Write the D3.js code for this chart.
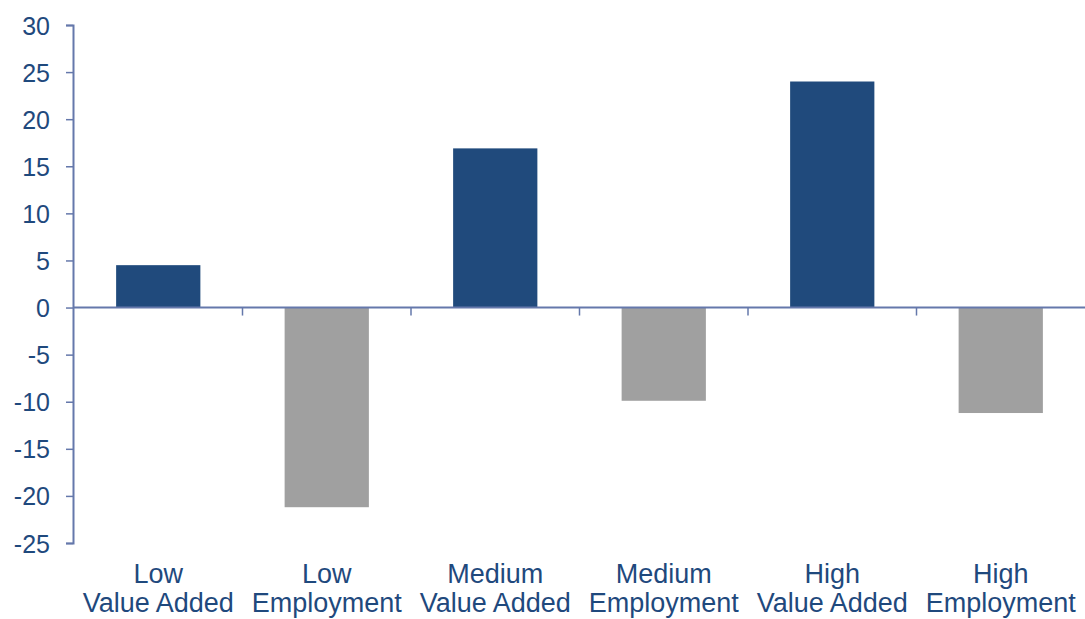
<!DOCTYPE html>
<html>
<head>
<meta charset="utf-8">
<title>Value added vs employment</title>
<script src="https://cdn.jsdelivr.net/npm/d3@7"></script>
<style>
  body { margin: 0; background: #fff; }
  text { font-family: "Liberation Sans", Arial, sans-serif; fill: #1f497d; }
</style>
</head>
<body>
<svg id="chart" width="1085" height="619"></svg>
<script>
// data
var categories = ["Low|Value Added", "Low|Employment", "Medium|Value Added",
                  "Medium|Employment", "High|Value Added", "High|Employment"]
var values = [4.5, -21.2, 16.9, -9.9, 24.0, -11.2]
var yTicks = [30, 25, 20, 15, 10, 5, 0, -5, -10, -15, -20, -25]

var axisColor = "#6578ab"
var svg = d3.select("#chart")

var x = d3.scaleBand().domain(categories).range([74, 1085])
  .paddingInner(0.5).paddingOuter(0.25)
var y = d3.scaleLinear().domain([-25, 30]).range([543, 25])

// bars
svg.selectAll("rect.bar")
  .data(values)
  .enter().append("rect")
  .attr("class", "bar")
  .attr("x", (d, i) => x(categories[i]))
  .attr("width", x.bandwidth())
  .attr("y", d => y(Math.max(0, d)))
  .attr("height", d => Math.abs(y(d) - y(0)))
  .attr("fill", d => d >= 0 ? "#204a7c" : "#a0a0a0")

// y axis (plain hyphen for negatives, like the original)
var yAxis = svg.append("g")
  .attr("transform", "translate(73,0)")
  .call(d3.axisLeft(y).tickValues(yTicks).tickSize(7).tickPadding(16).tickFormat(d => String(d)))
yAxis.select(".domain").attr("stroke", axisColor).attr("stroke-width", 2)
yAxis.selectAll(".tick line").attr("stroke", axisColor).attr("stroke-width", 1.5)
yAxis.selectAll(".tick text").style("font-size", "25px").attr("fill", "#1f497d")
  .attr("dy", "0.36em")

// zero line
svg.append("line")
  .attr("x1", 73).attr("x2", 1085)
  .attr("y1", y(0)).attr("y2", y(0))
  .attr("stroke", axisColor).attr("stroke-width", 2)

// category separator ticks
var step = x.step()
var bounds = d3.range(1, categories.length).map(i => x(categories[i]) - (step - x.bandwidth()) / 2)
svg.selectAll("line.sep")
  .data(bounds)
  .enter().append("line")
  .attr("class", "sep")
  .attr("x1", d => d).attr("x2", d => d)
  .attr("y1", y(0)).attr("y2", y(0) + 8)
  .attr("stroke", axisColor).attr("stroke-width", 1.5)

// category labels, two lines each
var lab = svg.selectAll("text.cat")
  .data(categories)
  .enter().append("text")
  .attr("class", "cat")
  .attr("text-anchor", "middle")
  .style("font-size", "27px")
lab.append("tspan")
  .attr("x", d => x(d) + x.bandwidth() / 2)
  .attr("y", 583)
  .text(d => d.split("|")[0])
lab.append("tspan")
  .attr("x", d => x(d) + x.bandwidth() / 2)
  .attr("y", 612)
  .text(d => d.split("|")[1])
</script>
</body>
</html>
